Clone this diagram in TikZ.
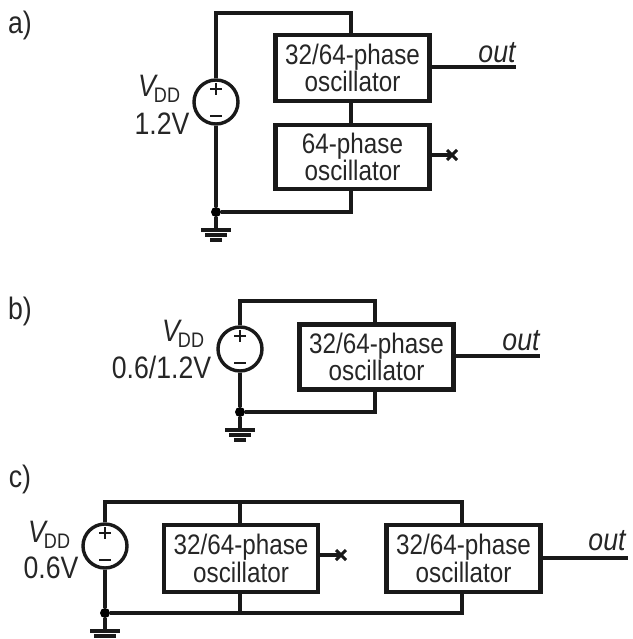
\documentclass[tikz,border=0pt]{standalone}
\usepackage{fontspec}
\setmainfont[FakeStretch=0.86]{Liberation Sans}
\tikzset{
  x=1pt,y=-1pt,
  wire/.style={line width=4pt,line cap=butt,line join=miter,draw=black!90},
  osc/.style={draw=black!90,line width=4.4pt,rectangle,minimum width=154pt,align=center,inner sep=0pt,font=\fontsize{28.2}{31}\selectfont,text=black!85},
  src/.style={circle,draw=black!90,line width=3.4pt,minimum size=44pt,inner sep=0pt},
  lbl/.style={inner sep=0pt,font=\fontsize{31}{33}\selectfont,text=black!85},
  vdd/.style={inner sep=0pt,anchor=base west,text=black!85},
  dotn/.style={circle,fill=black,inner sep=0pt,minimum size=10pt},
  gndline/.style={line width=3.4pt,draw=black!90}
}
\newcommand{\Gnd}[2]{%
  \draw[gndline] (#1-15,#2) -- (#1+15,#2);
  \draw[gndline] (#1-11,#2+5) -- (#1+11,#2+5);
  \draw[gndline] (#1-6,#2+10) -- (#1+6,#2+10);}
\newcommand{\Pol}[2]{%
  \draw[line width=2.2pt,draw=black!90] (#1-6,#2-13) -- (#1+6,#2-13) (#1,#2-19) -- (#1,#2-7);
  \draw[line width=2.2pt,draw=black!90] (#1-6,#2+14) -- (#1+6,#2+14);}
\newcommand{\Xm}[2]{%
  \draw[line width=3pt,draw=black!90] (#1-5,#2-5) -- (#1+5,#2+5) (#1-5,#2+5) -- (#1+5,#2-5);}
\newcommand{\Vdd}{\fontsize{31}{33}\selectfont\itshape V\kern-2pt\raisebox{-6pt}{\upshape\fontsize{21}{24}\selectfont DD}}
\newcommand{\Otxt}[1]{#1\\[-3.5pt]oscillator}
\begin{document}
\begin{tikzpicture}
\useasboundingbox (0,0) rectangle (632,639);
% ---- a
\node[lbl] (la) at (20,25) {a)};
\node[src] (sa) at (216,102) {};
\Pol{216}{102}
\node[osc,minimum height=66pt] (a1) at (352.5,68) {\Otxt{32/64-phase}};
\node[osc,minimum height=64pt] (a2) at (352.5,157) {\Otxt{64-phase}};
\coordinate (at) at (216,13);
\coordinate (atr) at (351,13);
\node[dotn] (ad) at (216,212) {};
\coordinate (abr) at (351,212);
\coordinate (ag) at (216,230);
\coordinate (aout) at (516,67);
\coordinate (ax) at (452,155);
\draw[wire] (sa.north) -- (at) -- (atr) -- (atr|-a1.north);
\draw[wire] (atr|-a1.south) -- (atr|-a2.north);
\draw[wire] (atr|-a2.south) -- (abr) -- (ad);
\draw[wire] (sa.south) -- (ad) -- (ag);
\draw[wire] (a1.east|-aout) -- (aout);
\draw[wire] (a2.east|-ax) -- (ax);
\Xm{452}{155}
\Gnd{216}{230}
\node[vdd] (va) at (138,97) {\Vdd};
\node[lbl] (ua) at (162,124) {1.2V};
\node[lbl] (oa) at (497,53) {\itshape out};
% ---- b
\node[lbl] (lb) at (20,311) {b)};
\node[src] (sb) at (240,349) {};
\Pol{240}{349}
\node[osc,minimum height=65pt] (b1) at (376.5,357) {\Otxt{32/64-phase}};
\coordinate (bt) at (240,301);
\coordinate (btr) at (375,301);
\node[dotn] (bd) at (240,412) {};
\coordinate (bbr) at (375,412);
\coordinate (bg) at (240,430);
\coordinate (bout) at (540,356);
\draw[wire] (sb.north) -- (bt) -- (btr) -- (btr|-b1.north);
\draw[wire] (btr|-b1.south) -- (bbr) -- (bd);
\draw[wire] (sb.south) -- (bd) -- (bg);
\draw[wire] (b1.east|-bout) -- (bout);
\Gnd{240}{430}
\node[vdd] (vb) at (162,341) {\Vdd};
\node[lbl] (ub) at (161.5,367) {0.6/1.2V};
\node[lbl] (ob) at (521,341) {\itshape out};
% ---- c
\node[lbl] (lc) at (20,479) {c)};
\node[src] (sc) at (105,546) {};
\Pol{105}{546}
\node[osc,minimum height=67pt] (c1) at (241,558.5) {\Otxt{32/64-phase}};
\node[osc,minimum height=67pt] (c2) at (463.5,558.5) {\Otxt{32/64-phase}};
\coordinate (ct) at (105,502);
\coordinate (ctm) at (240,502);
\coordinate (ctr) at (462,502);
\node[dotn] (cd) at (105,613) {};
\coordinate (cbm) at (240,613);
\coordinate (cbr) at (462,613);
\coordinate (cg) at (105,631);
\coordinate (cout) at (628,558);
\coordinate (cx) at (341,555);
\draw[wire] (sc.north) -- (ct) -- (ctr) -- (ctr|-c2.north);
\draw[wire] (ctm) -- (ctm|-c1.north);
\draw[wire] (cbm|-c1.south) -- (cbm);
\draw[wire] (ctr|-c2.south) -- (cbr) -- (cd);
\draw[wire] (sc.south) -- (cd) -- (cg);
\draw[wire] (c1.east|-cx) -- (cx);
\draw[wire] (c2.east|-cout) -- (cout);
\Xm{341}{555}
\Gnd{105}{631}
\node[vdd] (vc) at (28,542) {\Vdd};
\node[lbl] (uc) at (51,568) {0.6V};
\node[lbl] (oc) at (607,541) {\itshape out};
\end{tikzpicture}
\end{document}
